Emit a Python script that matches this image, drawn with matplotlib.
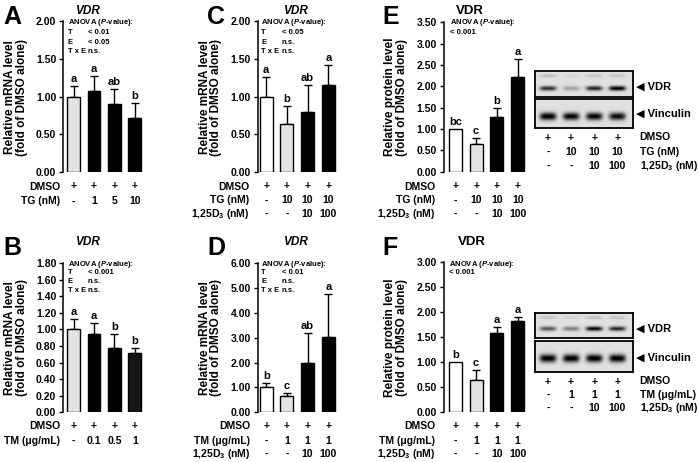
import numpy as np
import matplotlib.pyplot as plt
from matplotlib import transforms

plt.rcParams['font.family'] = ['Liberation Sans', 'DejaVu Sans']
plt.rcParams['font.weight'] = 'bold'
plt.rcParams['mathtext.fontset'] = 'custom'
plt.rcParams['mathtext.rm'] = 'Liberation Sans:bold'
plt.rcParams['mathtext.bf'] = 'Liberation Sans:bold'
plt.rcParams['mathtext.it'] = 'Liberation Sans:bold:italic'

W, H = 699, 462
D3 = '1,25D$_\\mathbf{3}$ (nM)'
GRAY = '#e3e3e3'

# ---- data ----
a_mean = [1.00, 1.08, 0.90, 0.72]
a_sd = [0.14, 0.19, 0.20, 0.20]
a_sig = ['a', 'a', 'ab', 'b']
a_tg = ['-', '1', '5', '10']
a_anova = [('T', '< 0.01'), ('E', '< 0.05'), ('T x E', 'n.s.')]

b_mean = [1.00, 0.94, 0.77, 0.71]
b_sd = [0.12, 0.14, 0.17, 0.07]
b_sig = ['a', 'a', 'b', 'b']
b_tm = ['-', '0.1', '0.5', '1']
b_anova = [('T', '< 0.001'), ('E', 'n.s.'), ('T x E', 'n.s.')]

c_mean = [1.00, 0.64, 0.80, 1.16]
c_sd = [0.26, 0.23, 0.36, 0.26]
c_sig = ['a', 'b', 'ab', 'a']
c_anova = [('T', '< 0.05'), ('E', 'n.s.'), ('T x E', 'n.s.')]

d_mean = [1.00, 0.65, 1.97, 3.02]
d_sd = [0.17, 0.12, 1.23, 1.73]
d_sig = ['b', 'c', 'ab', 'a']
d_anova = [('T', '< 0.01'), ('E', 'n.s.'), ('T x E', 'n.s.')]

e_mean = [1.00, 0.66, 1.28, 2.23]
e_sd = [None, 0.12, 0.22, 0.40]
e_sig = ['bc', 'c', 'b', 'a']

f_mean = [1.00, 0.64, 1.59, 1.83]
f_sd = [None, 0.21, 0.11, 0.08]
f_sig = ['b', 'c', 'a', 'a']

dmso = ['+', '+', '+', '+']
tg_combo = ['-', '10', '10', '10']
tm_combo = ['-', '1', '1', '1']
d3_combo = ['-', '-', '10', '100']

# blot band darkness per lane
e_vdr = [0.70, 0.25, 0.75, 0.92]
e_vdr_up = [0.15, 0.05, 0.12, 0.12]
e_vin = [0.92, 0.88, 0.88, 0.85]
f_vdr = [0.55, 0.40, 0.88, 0.75]
f_vdr_up = [0.12, 0.08, 0.15, 0.12]
f_vin = [0.92, 0.92, 0.92, 0.92]

fig = plt.figure(figsize=(W / 100, H / 100), dpi=100)


def px_axes(l, r, t, b):
    return fig.add_axes([l / W, 1 - b / H, (r - l) / W, (b - t) / H])


def bar_panel(l, r, t, b, xlim, ymax, step, means, sds, colors, sig):
    ax = px_axes(l, r, t, b)
    x = np.arange(len(means))
    ax.bar(x, means, width=0.63, color=colors, edgecolor='k', linewidth=1, zorder=2)
    idx = [i for i, s in enumerate(sds) if s is not None]
    m = np.array(means)[idx]
    e = np.array([sds[i] for i in idx])
    ax.errorbar(x[idx], m, yerr=[np.zeros(len(idx)), e], fmt='none', ecolor='k',
                elinewidth=1, capsize=3, capthick=1, zorder=1)
    for i in x:
        top = means[i] + (sds[i] or 0)
        ax.annotate(sig[i], (i, top), xytext=(0, 1.5), textcoords='offset points',
                    ha='center', va='bottom', fontsize=8)
    ax.set_xlim(xlim)
    ax.set_ylim(0, ymax)
    ax.set_yticks(np.arange(0, ymax + step / 2, step))
    ax.yaxis.set_major_formatter('{x:.2f}')
    for s in ['top', 'right', 'bottom']:
        ax.spines[s].set_visible(False)
    ax.spines['left'].set_linewidth(1.1)
    ax.set_xticks([])
    ax.tick_params(axis='y', direction='out', length=3, width=1, labelsize=7.5, pad=2)
    ax.patch.set_alpha(0)
    return ax


def rows(ax, ys, labels, values, label_x, left=False):
    tr = transforms.blended_transform_factory(ax.transData, fig.transFigure)
    for y, lab, vals in zip(ys, labels, values):
        fig.text(label_x / W, 1 - y / H, lab, ha='left' if left else 'right',
                 va='center', fontsize=7.5)
        for i, v in enumerate(vals):
            ax.text(i, 1 - y / H, v, transform=tr, ha='center', va='center', fontsize=7.5)


def anova(x, y0, dy, lines, xval):
    fig.text(x / W, 1 - y0 / H, 'ANOVA ($\\mathit{P}$-value):', fontsize=5.5, va='center')
    for k, (lab, val) in enumerate(lines):
        yy = 1 - (y0 + dy * (k + 1)) / H
        if lab:
            fig.text(x / W, yy, lab, fontsize=5.5, va='center')
        fig.text(xval / W, yy, val, fontsize=5.5, va='center')


def blot(l, r, t, b, xlim, yband, inten, up=None, sig=0.09):
    ax = px_axes(l, r, t, b)
    xs = np.linspace(xlim[0], xlim[1], 300)
    ys = np.linspace(0, 1, 80)
    X, Y = np.meshgrid(xs, ys)
    img = np.full(X.shape, 0.12)
    for i, v in enumerate(inten):
        img += v * np.exp(-((X - i) / 0.36) ** 4) * np.exp(-((Y - yband) / sig) ** 2)
    if up is not None:
        for i, v in enumerate(up):
            img += v * np.exp(-((X - i) / 0.36) ** 4) * np.exp(-((Y - 0.18) / 0.06) ** 2)
    ax.imshow(np.clip(img, 0, 1), cmap='gray_r', vmin=0, vmax=1,
              extent=[xlim[0], xlim[1], 1, 0], aspect='auto', interpolation='bilinear')
    ax.set_xlim(xlim)
    ax.set_xticks([])
    ax.set_yticks([])
    for s in ax.spines.values():
        s.set_linewidth(1.3)
    return ax


# ---- panel A ----
axA = bar_panel(63.3, 144, 21.5, 171.7, (-0.5, 3.45), 2.0, 0.5, a_mean, a_sd,
                [GRAY, 'k', 'k', 'k'], a_sig)
rows(axA, [186.5, 201.5], ['DMSO', 'TG (nM)'], [dmso, a_tg], 60)
anova(67.5, 23, 9.5, a_anova, 88)

# ---- panel B ----
axB = bar_panel(63.3, 144, 263, 412.3, (-0.5, 3.45), 1.8, 0.2, b_mean, b_sd,
                [GRAY, 'k', 'k', '#151515'], b_sig)
rows(axB, [426, 441], ['DMSO', 'TM (\u03bcg/mL)'], [dmso, b_tm], 60)
anova(67.5, 264, 8.7, b_anova, 88)

# ---- panel C ----
axC = bar_panel(257.7, 338.6, 21.5, 171.7, (-0.41, 3.5), 2.0, 0.5, c_mean, c_sd,
                ['white', GRAY, 'k', 'k'], c_sig)
rows(axC, [186.5, 200.5, 214], ['DMSO', 'TG (nM)', D3], [dmso, tg_combo, d3_combo], 249.5)
anova(261, 23, 9.5, c_anova, 281.5)

# ---- panel D ----
axD = bar_panel(257.7, 338.6, 263, 412.3, (-0.41, 3.5), 6.0, 1.0, d_mean, d_sd,
                ['white', GRAY, 'k', 'k'], d_sig)
rows(axD, [426, 440.5, 454], ['DMSO', 'TM (\u03bcg/mL)', D3], [dmso, tm_combo, d3_combo], 250)
anova(261, 264, 8.7, d_anova, 281.5)

# ---- panel E ----
axE = bar_panel(444, 527, 22.3, 171.7, (-0.55, 3.45), 3.5, 0.5, e_mean, e_sd,
                ['white', GRAY, 'k', 'k'], e_sig)
rows(axE, [186.5, 200.5, 214], ['DMSO', 'TG (nM)', D3], [dmso, tg_combo, d3_combo], 435)
anova(450, 23, 9.5, [('', '< 0.001')], 450)

bxlim = (-0.56, 3.67)
bE1 = blot(535, 632.7, 71, 96.7, bxlim, 0.67, e_vdr, e_vdr_up)
bE2 = blot(535, 632.7, 99.3, 128.3, bxlim, 0.6, e_vin, sig=0.13)
fig.text(636.5 / W, 1 - 86.5 / H, '\u25c0 VDR', fontsize=8, va='center')
fig.text(636.5 / W, 1 - 114 / H, '\u25c0 Vinculin', fontsize=8, va='center')
rows(bE2, [137.5, 152, 166], ['DMSO', 'TG (nM)', D3], [dmso, tg_combo, d3_combo], 639.5, left=True)

# ---- panel F ----
axF = bar_panel(444, 527, 262, 412.3, (-0.55, 3.45), 3.0, 0.5, f_mean, f_sd,
                ['white', GRAY, 'k', 'k'], f_sig)
rows(axF, [426, 440.5, 454], ['DMSO', 'TM (\u03bcg/mL)', D3], [dmso, tm_combo, d3_combo], 435)
anova(449, 264, 9, [('', '< 0.001')], 449)

bF1 = blot(535, 632.7, 313.3, 338.3, bxlim, 0.63, f_vdr, f_vdr_up)
bF2 = blot(535, 632.7, 341, 371.7, bxlim, 0.56, f_vin, sig=0.13)
fig.text(636.5 / W, 1 - 329 / H, '\u25c0 VDR', fontsize=8, va='center')
fig.text(636.5 / W, 1 - 358 / H, '\u25c0 Vinculin', fontsize=8, va='center')
rows(bF2, [381.5, 395, 408], ['DMSO', 'TM (\u03bcg/mL)', D3], [dmso, tm_combo, d3_combo], 639.5, left=True)

# ---- y labels, titles, panel letters ----
mrna = 'Relative mRNA level\n(fold of DMSO alone)'
prot = 'Relative protein level\n(fold of DMSO alone)'
for x, y, lab in [(16, 97, mrna), (16, 338, mrna), (210.5, 97, mrna),
                  (210.5, 338, mrna), (396, 97, prot), (396, 338, prot)]:
    fig.text(x / W, 1 - y / H, lab, rotation=90, ha='center', va='center',
             fontsize=8.5, linespacing=1.0, multialignment='center')

for x, y in [(87, 13.5), (87, 245), (295, 13.5), (295, 245)]:
    fig.text(x / W, 1 - y / H, 'VDR', style='italic', fontsize=8.5, ha='center', va='baseline')
for x, y in [(470, 13.5), (472, 245)]:
    fig.text(x / W, 1 - y / H, 'VDR', fontsize=9.5, ha='center', va='baseline')

for x, y, lab in [(3, 23.5, 'A'), (3, 255, 'B'), (207, 23.5, 'C'),
                  (207, 255, 'D'), (382, 23.5, 'E'), (382, 255, 'F')]:
    fig.text(x / W, 1 - y / H, lab, fontsize=18, ha='left', va='baseline')

fig.savefig('out.png', dpi=100)
